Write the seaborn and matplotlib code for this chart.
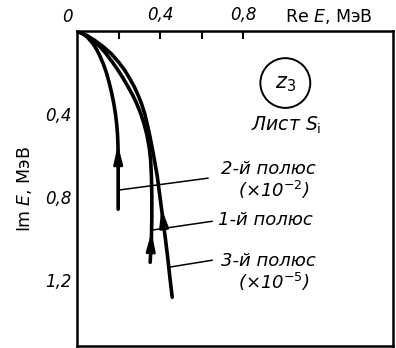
import numpy as np
import pandas as pd
import seaborn as sns
import matplotlib.pyplot as plt
from matplotlib.patches import Circle

# ---- data ----
pole1_im = [0.0, 0.02, 0.045, 0.075, 0.11, 0.15, 0.19, 0.23, 0.27, 0.31, 0.35, 0.40, 0.45,
            0.50, 0.56, 0.62, 0.70, 0.80, 0.90, 1.00, 1.116]
pole1_re = [0.0, 0.04, 0.075, 0.11, 0.14, 0.17, 0.198, 0.223, 0.246, 0.268, 0.287, 0.307, 0.323,
            0.336, 0.347, 0.354, 0.358, 0.360, 0.360, 0.358, 0.352]
pole2_im = [0.0, 0.01, 0.03, 0.06, 0.09, 0.12, 0.16, 0.20, 0.25, 0.30, 0.35, 0.40, 0.45,
            0.50, 0.55, 0.60, 0.70, 0.86]
pole2_re = [0.0, 0.025, 0.05, 0.076, 0.095, 0.11, 0.127, 0.141, 0.155, 0.167, 0.177, 0.185, 0.191,
            0.195, 0.197, 0.198, 0.198, 0.198]
pole3_im = [0.0, 0.02, 0.045, 0.075, 0.11, 0.15, 0.19, 0.23, 0.27, 0.31, 0.35, 0.40, 0.45,
            0.50, 0.56, 0.62, 0.70, 0.80, 0.90, 1.00, 1.10, 1.20, 1.285]
pole3_re = [0.0, 0.045, 0.085, 0.125, 0.165, 0.200, 0.230, 0.254, 0.276, 0.294, 0.310, 0.326, 0.338,
            0.349, 0.361, 0.372, 0.386, 0.399, 0.412, 0.425, 0.437, 0.448, 0.458]

x_ticks = [0.2, 0.4, 0.6, 0.8]
x_tick_labels = ['', '0,4', '', '0,8']
y_ticks = [0.2, 0.4, 0.6, 0.8, 1.0, 1.2]
y_tick_labels = ['', '0,4', '', '0,8', '', '1,2']

pole_names = ['1-й полюс', '2-й полюс', '3-й полюс']

df = pd.concat([
    pd.DataFrame({'re': pole1_re, 'im': pole1_im, 'pole': pole_names[0]}),
    pd.DataFrame({'re': pole2_re, 'im': pole2_im, 'pole': pole_names[1]}),
    pd.DataFrame({'re': pole3_re, 'im': pole3_im, 'pole': pole_names[2]}),
], ignore_index=True)

sns.set_theme(style='white')
plt.rcParams['font.family'] = ['DejaVu Sans']
plt.rcParams['mathtext.fontset'] = 'dejavusans'
plt.rcParams['text.color'] = 'black'
plt.rcParams['xtick.color'] = 'black'
plt.rcParams['ytick.color'] = 'black'

fig = plt.figure(figsize=(3.96, 3.48), dpi=100)
ax = fig.add_axes([77/396, 1 - 346/348, 316/396, 315/348])

sns.lineplot(data=df, x='re', y='im', hue='pole', units='pole', estimator=None,
             sort=False, palette=['black'] * 3, linewidth=2.6, legend=False, ax=ax)
for ln in ax.lines:
    ln.set_solid_capstyle('round')
    ln.set_solid_joinstyle('round')

ax.set_xlim(0, 1.52)
ax.set_ylim(1.52, 0)
ax.xaxis.tick_top()
ax.set_xticks(x_ticks)
ax.set_xticklabels(x_tick_labels, fontsize=12, fontstyle='italic')
ax.set_yticks(y_ticks)
ax.set_yticklabels(y_tick_labels, fontsize=12, fontstyle='italic')
ax.tick_params(axis='both', direction='in', length=6, width=1.5, color='black')
ax.tick_params(axis='x', pad=5)
ax.tick_params(axis='y', pad=4)
ax.set_xlabel('')
ax.set_ylabel('')
for s in ax.spines.values():
    s.set_color('black')
    s.set_linewidth(1.8)

# corner zero and axis titles
ax.text(-0.048, 1.045, '0', transform=ax.get_xaxis_transform(), ha='center', va='center',
        fontsize=12, fontstyle='italic')
ax.text(1.21, 1.045, 'Re $E$, МэВ', transform=ax.get_xaxis_transform(), ha='center', va='center',
        fontsize=12.5)
ax.text(-0.165, 0.5, 'Im $E$, МэВ', transform=ax.transAxes, ha='center', va='center',
        rotation=90, fontsize=12.5)

# arrows on curves (direction toward origin)
def arrow_on(re, im, y_tip, y_base):
    xt = np.interp(y_tip, im, re)
    xb = np.interp(y_base, im, re)
    ax.annotate('', xy=(xt, y_tip), xytext=(xb, y_base),
                arrowprops=dict(arrowstyle='-|>,head_length=0.9,head_width=0.22',
                                color='black', lw=2.0, shrinkA=0, shrinkB=0))

arrow_on(pole2_re, pole2_im, 0.55, 0.64)
arrow_on(pole1_re, pole1_im, 0.97, 1.05)
arrow_on(pole3_re, pole3_im, 0.855, 0.93)

# leader lines
def leader(re, im, y0, x1, y1):
    x0 = np.interp(y0, im, re)
    ax.plot([x0, x1], [y0, y1], color='black', lw=1.1)

leader(pole2_re, pole2_im, 0.768, 0.631, 0.710)
leader(pole1_re, pole1_im, 0.961, 0.651, 0.918)
leader(pole3_re, pole3_im, 1.14, 0.651, 1.106)

lab_kw = dict(ha='center', va='center', fontsize=13, fontstyle='italic')
ax.text(0.920, 0.667, pole_names[1], **lab_kw)
ax.text(0.945, 0.768, '(×10$^{-2}$)', **lab_kw)
ax.text(0.906, 0.913, pole_names[0], **lab_kw)
ax.text(0.920, 1.111, pole_names[2], **lab_kw)
ax.text(0.945, 1.213, '(×10$^{-5}$)', **lab_kw)

# sheet marker
ax.add_patch(Circle((1.002, 0.251), 0.12, fill=False, edgecolor='black', lw=1.4))
ax.text(1.002, 0.255, '$z_3$', ha='center', va='center', fontsize=15)
ax.text(1.007, 0.454, 'Лист $S_{\\mathrm{i}}$', ha='center', va='center', fontsize=13.5,
        fontstyle='italic')

fig.savefig('out.png', dpi=100)
